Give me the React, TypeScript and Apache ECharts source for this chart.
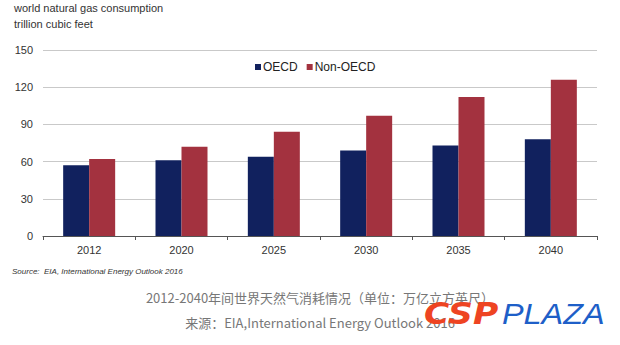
import React, { useEffect, useRef } from "react";
import * as echarts from "echarts";

const categories = ["2012", "2020", "2025", "2030", "2035", "2040"];
const oecd = [57, 61, 64, 69, 73, 78];
const nonOecd = [62, 72, 84, 97, 112, 126];
const seriesNames = ["OECD", "Non-OECD"];
const yTicks = { min: 0, max: 150, interval: 30 };
const titleLines = ["world natural gas consumption", "trillion cubic feet"];
const sourceText = "Source:  EIA, International Energy Outlook 2016";
const captionLines = [
  "2012-2040年间世界天然气消耗情况（单位：万亿立方英尺）",
  "来源：EIA,International Energy Outlook 2016",
];

export default function App() {
  const ref = useRef<HTMLDivElement>(null);
  useEffect(() => {
    if (!ref.current) return;
    const chart = echarts.init(ref.current, null, { renderer: "svg" });
    const sans = "'Liberation Sans', Arial, sans-serif";
    chart.setOption({
      animation: false,
      backgroundColor: "#ffffff",
      grid: { left: 43, right: 23, top: 50, bottom: 109, containLabel: false },
      legend: {
        data: seriesNames,
        left: 250,
        top: 56,
        icon: "rect",
        itemWidth: 6,
        itemHeight: 6,
        itemGap: 9,
        textStyle: { fontFamily: sans, fontSize: 12, color: "#222", padding: [0, 0, 0, -3] },
      },
      xAxis: {
        type: "category",
        data: categories,
        axisLine: { show: true, lineStyle: { color: "#555", width: 1 } },
        axisTick: { show: true, length: 4, lineStyle: { color: "#555" } },
        axisLabel: { fontFamily: sans, fontSize: 11, color: "#333", margin: 8 },
      },
      yAxis: {
        type: "value",
        min: yTicks.min,
        max: yTicks.max,
        interval: yTicks.interval,
        axisLine: { show: false },
        axisTick: { show: false },
        splitLine: { show: true, lineStyle: { color: "#c9c9c9", width: 1.2 } },
        axisLabel: { fontFamily: sans, fontSize: 11, color: "#333", margin: 10 },
      },
      series: [
        {
          name: seriesNames[0],
          type: "bar",
          data: oecd,
          barWidth: 26,
          barGap: "0%",
          itemStyle: { color: "#11215e" },
        },
        {
          name: seriesNames[1],
          type: "bar",
          data: nonOecd,
          barWidth: 26,
          itemStyle: { color: "#a3323f" },
        },
      ],
      graphic: [
        {
          type: "text",
          left: 14,
          top: 2,
          style: { text: titleLines[0], fontFamily: sans, fontSize: 11, fill: "#333" },
        },
        {
          type: "text",
          left: 14,
          top: 18,
          style: { text: titleLines[1], fontFamily: sans, fontSize: 11, fill: "#333" },
        },
        {
          type: "text",
          left: 12,
          top: 267,
          style: { text: sourceText, fontFamily: sans, fontSize: 8, fontStyle: "italic", fill: "#333" },
        },
        {
          type: "text",
          x: 320,
          y: 297,
          style: {
            text: captionLines[0],
            fontFamily: "'Noto Sans CJK SC', sans-serif",
            fontSize: 13,
            fill: "#777",
            align: "center",
            verticalAlign: "middle",
          },
        },
        {
          type: "text",
          x: 320,
          y: 322,
          style: {
            text: captionLines[1],
            fontFamily: "'Noto Sans CJK SC', sans-serif",
            fontSize: 13,
            fill: "#777",
            align: "center",
            verticalAlign: "middle",
          },
        },
        {
          type: "text",
          x: 424,
          y: 314,
          scaleX: 1.15,
          style: {
            text: "CSP",
            fontFamily: "'DejaVu Sans', sans-serif",
            fontWeight: "bold",
            fontStyle: "italic",
            fontSize: 30,
            fill: "#ee4422",
            verticalAlign: "middle",
          },
        },
        {
          type: "text",
          x: 502,
          y: 314,
          scaleX: 1.08,
          style: {
            text: "PLAZA",
            fontFamily: sans,
            fontStyle: "italic",
            fontSize: 30,
            fill: "#1e5fc8",
            verticalAlign: "middle",
          },
        },
      ],
    });
    return () => chart.dispose();
  }, []);
  return (
    <div
      ref={ref}
      style={{ position: "fixed", left: 0, top: 0, width: 620, height: 345 }}
    />
  );
}
